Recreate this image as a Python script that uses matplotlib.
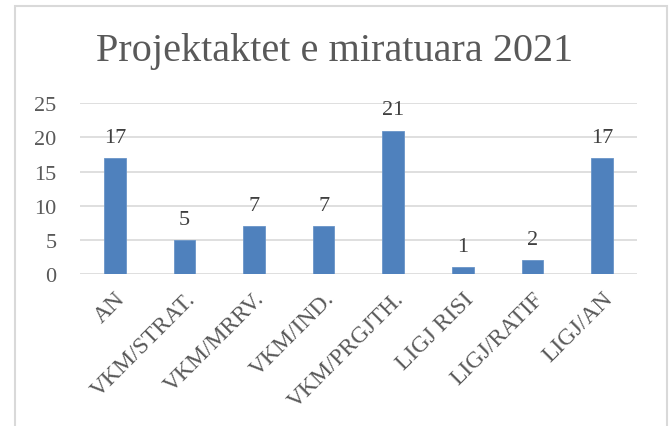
import matplotlib.pyplot as plt
from matplotlib.patches import Rectangle

categories = ['AN', 'VKM/STRAT.', 'VKM/MRRV.', 'VKM/IND.', 'VKM/PRGJTH.',
              'LIGJ RISI', 'LIGJ/RATIF', 'LIGJ/AN']
values = [17, 5, 7, 7, 21, 1, 2, 17]
yticks = [0, 5, 10, 15, 20, 25]

txt = '#595959'
plt.rcParams['font.family'] = ['Liberation Serif', 'DejaVu Serif']

fig = plt.figure(figsize=(6.69, 4.27), dpi=100)
ax = fig.add_axes([0.1196, 0.356, 0.8324, 0.40])

x = range(len(categories))
bars = ax.bar(x, values, width=0.31, color='#4f81bd', edgecolor='#6a95c8',
              linewidth=0.6, zorder=3)
for b, v in zip(bars, values):
    ax.annotate(str(v), (b.get_x() + b.get_width() / 2, v), xytext=(0, 8),
                textcoords='offset points', ha='center', va='bottom',
                fontsize=16, color='#404040')

ax.set_xlim(-0.5, len(categories) - 0.5)
ax.set_ylim(0, 25)
ax.set_yticks(yticks)
ax.yaxis.grid(True, color='#d9d9d9', linewidth=1.2, zorder=0)
ax.set_axisbelow(True)
for s in ax.spines.values():
    s.set_visible(False)
ax.tick_params(axis='both', length=0, colors=txt, labelsize=16)
ax.tick_params(axis='y', pad=17)
ax.set_xticks(list(x))
ax.set_xticklabels(categories, rotation=45, ha='right', rotation_mode='anchor',
                   fontsize=17)
ax.tick_params(axis='x', pad=10)

fig.text(0.5, 0.88, 'Projektaktet e miratuara 2021', ha='center', va='center',
         fontsize=29, color=txt)

fig.patches.append(Rectangle((15 / 669, -0.1), 652 / 669, 1.1 - 7 / 427,
                             transform=fig.transFigure, fill=False,
                             edgecolor='#d9d9d9', linewidth=1.5))

fig.savefig('out.png', dpi=100)
